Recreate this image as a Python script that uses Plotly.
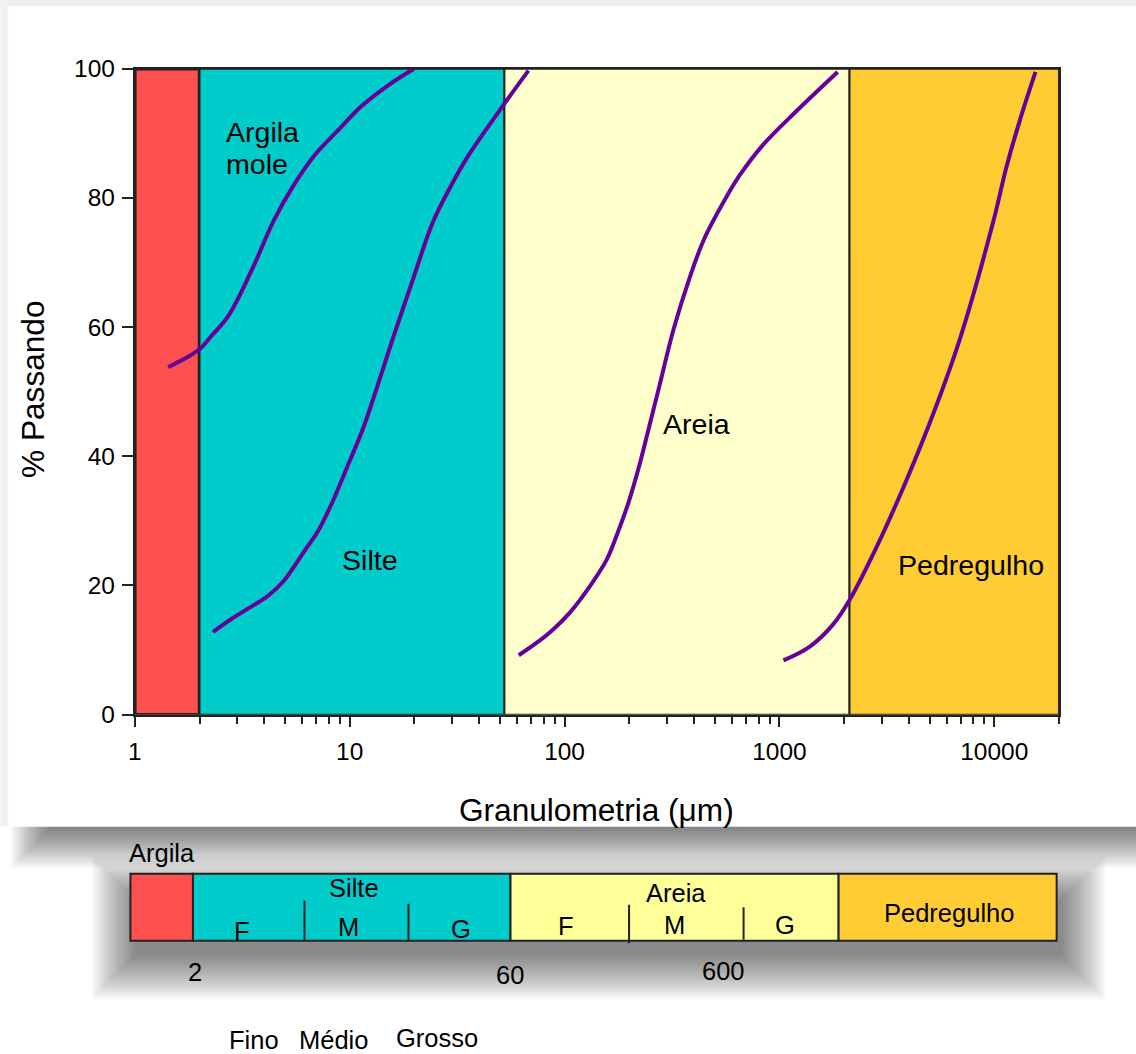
import numpy as np
import plotly.graph_objects as go

# ------------------------------------------------------------------
# DATA
# ------------------------------------------------------------------
faixa_nomes = ["Argila", "Silte", "Areia", "Pedregulho"]
faixa_limites_um = [1, 2, 52.5, 2120, 20000]          # class limits shown on the chart (µm)

curva_argila_mole_x = [1.43, 1.81, 2.05, 2.24, 2.72, 3.52, 4.42, 5.47, 6.94, 8.79, 11.26, 15.05, 19.9]
curva_argila_mole_y = [53.8, 55.6, 56.9, 58.4, 61.7, 69.0, 76.4, 81.9, 86.8, 90.4, 94.1, 97.4, 100.0]

curva_silte_x = [2.31, 2.78, 3.51, 4.13, 4.93, 6.23, 7.06, 8.15, 9.92, 11.66, 13.47, 15.83,
                 19.70, 24.43, 29.65, 35.6, 53.6, 67.9]
curva_silte_y = [12.8, 14.7, 16.8, 18.3, 20.7, 25.6, 28.2, 32.3, 39.0, 44.7, 50.9, 58.1,
                 67.4, 76.3, 81.9, 86.5, 95.0, 99.7]

curva_areia_x = [61.2, 74.0, 88.5, 105.9, 131.3, 157.1, 176.9, 199.1, 221.7, 246, 274, 322,
                 380, 446, 584, 650, 833, 1188, 1866]
curva_areia_y = [9.2, 11.1, 13.2, 15.8, 19.9, 24.0, 28.2, 33.0, 38.3, 44.2, 50.4, 59.7,
                 67.4, 73.6, 80.9, 83.4, 88.1, 93.3, 99.5]

curva_pedregulho_x = [1044, 1380, 1770, 2124, 2810, 3880, 5190, 6940, 9890, 11380, 13210, 15560]
curva_pedregulho_y = [8.4, 10.5, 13.9, 17.8, 25.7, 36.1, 46.5, 58.3, 76.3, 84.7, 92.2, 99.5]

x_tick_vals = [1, 10, 100, 1000, 10000]
x_tick_text = ["1", "10", "100", "1000", "10000"]
y_tick_vals = [0, 20, 40, 60, 80, 100]

# schematic scale bar (not to scale)
escala_classes = ["Argila", "Silte", "Areia", "Pedregulho"]
escala_comprimentos = [62.5, 317.5, 328.0, 218.0]     # schematic lengths of the segments
escala_limites_texto = ["2", "60", "600"]
escala_subdiv = ["F", "M", "G"]
escala_subdiv_nomes = ["Fino", "Médio", "Grosso"]

# ------------------------------------------------------------------
# STYLE / LAYOUT CONSTANTS
# ------------------------------------------------------------------
W, H = 1136, 1054
FONT = "Arial, Liberation Sans, Helvetica, sans-serif"
PURPLE = "#660099"
EDGE = "#222222"
cores_faixa = ["#FF5050", "#00CCCC", "#FFFFCC", "#FFCC33"]
cores_escala = ["#FF5050", "#00CCCC", "#FFFF99", "#FFCC33"]

# screen placement (target picture pixels -> figure pixels)
SX, OX = 0.9936, 6.6
SY, OY = 0.974, 13.6
FS = 1.02   # font compensation


def PX(d):
    return (d - OX) / SX


def PY(d):
    return (d - OY) / SY


def fx(d):          # target pixel -> paper fraction
    return PX(d) / W


def fy(d):
    return 1 - PY(d) / H


# main plot box (target pixels)
PX_L, PX_R, PX_T, PX_B = 134.4, 1058.3, 69.3, 715.0
XMAX_LOG = np.log10(20000)
DEC = (PX_R - PX_L) / XMAX_LOG
YPX = (PX_B - PX_T) / 100.0


def lx(p):       # target pixel -> log10 data coordinate
    return (p - PX_L) / DEC


def ly(p):
    return (PX_B - p) / YPX


fig = go.Figure()

# background class bands
for i, nome in enumerate(faixa_nomes):
    lo, hi = faixa_limites_um[i], faixa_limites_um[i + 1]
    fig.add_trace(go.Scatter(
        x=[lo, hi, hi, lo, lo], y=[0, 0, 100, 100, 0],
        mode="lines", fill="toself", fillcolor=cores_faixa[i],
        line=dict(color=EDGE, width=3.5 if i == 0 else 2),
        hoverinfo="skip", showlegend=False, name=nome))

# grading curves
for cx, cy in [(curva_argila_mole_x, curva_argila_mole_y),
               (curva_silte_x, curva_silte_y),
               (curva_areia_x, curva_areia_y),
               (curva_pedregulho_x, curva_pedregulho_y)]:
    fig.add_trace(go.Scatter(
        x=cx, y=cy, mode="lines",
        line=dict(color=PURPLE, width=4, shape="spline", smoothing=1.0),
        showlegend=False))

# ---------------- schematic scale bar (x2 / y2) ----------------
BAR_X0 = 130.0           # target pixel of schematic 0
X2_DOM = (120.0, 1066.0)
X2_RANGE = (X2_DOM[0] - BAR_X0, X2_DOM[1] - BAR_X0)
BAR_H = 67.0             # target px per y2 unit
BAR_CY = 907.5
Y2_DOM_PX = (864.0, 951.0)
Y2_RANGE = (-(Y2_DOM_PX[1] - BAR_CY) / BAR_H, (BAR_CY - Y2_DOM_PX[0]) / BAR_H)

starts = np.concatenate([[0.0], np.cumsum(escala_comprimentos)[:-1]])
for i, nome in enumerate(escala_classes):
    fig.add_trace(go.Bar(
        x=[escala_comprimentos[i]], base=[starts[i]], y=[0], orientation="h", width=1.0,
        marker=dict(color=cores_escala[i], line=dict(color=EDGE, width=2)),
        xaxis="x2", yaxis="y2", showlegend=False, hoverinfo="skip", name=nome))


def uy(p):
    return (BAR_CY - p) / BAR_H


def ux(p):
    return p - BAR_X0


# subdivision ticks inside Silte and Areia (schematic)
subdiv_px = [(304, 900.7, 940), (408, 904, 940), (628.5, 905, 943.5), (743, 907.5, 940)]
for xp, y0p, y1p in subdiv_px:
    fig.add_trace(go.Scatter(x=[ux(xp), ux(xp)], y=[uy(y0p), uy(y1p)], mode="lines",
                             line=dict(color=EDGE, width=2), xaxis="x2", yaxis="y2",
                             showlegend=False, hoverinfo="skip"))

annotations = []


def ann(text, x, y, size, xref, yref, **kw):
    d = dict(text=text, x=x, y=y, xref=xref, yref=yref, showarrow=False,
             font=dict(family=FONT, size=size * FS, color="black"),
             xanchor=kw.pop("xanchor", "center"), yanchor=kw.pop("yanchor", "middle"))
    d.update(kw)
    annotations.append(d)


def annd(text, dx, dy, size, **kw):      # data-space label from target pixels
    ann(text, lx(dx), ly(dy), size, "x", "y", **kw)


def annp(text, dx, dy, size, **kw):      # paper-space label from target pixels
    ann(text, fx(dx), fy(min(dy, 1040.0)), size, "paper", "paper", **kw)


# labels on main chart
annd("Argila", 224, 133, 28, xanchor="left")
annd("mole", 224, 165, 28, xanchor="left")
annd("Silte", 370, 560, 28)
annd("Areia", 696, 424, 28)
annd("Pedregulho", 970, 565, 28)

# axis titles
annp("% Passando", 32, 390, 31, textangle=-90)
annp("Granulometria (μm)", 596, 810, 31)

# scale-bar labels
annp(escala_classes[0], 162, 853, 25)
annp(escala_classes[1], 354, 888, 25)
annp(escala_classes[2], 675, 893, 25)
annp(escala_classes[3], 948.5, 913, 25)
for t, (xp, yp) in zip(escala_subdiv + escala_subdiv,
                       [(241.5, 931), (348, 927.5), (460, 929), (565, 926), (674, 925), (784, 925.5)]):
    annp(t, xp, yp, 25)
for t, (xp, yp) in zip(escala_limites_texto, [(195, 972), (509.5, 975), (722.5, 971)]):
    annp(t, xp, yp, 25)
for t, (xp, yp) in zip(escala_subdiv_nomes, [(253.5, 1040), (333.5, 1042), (436.5, 1038)]):
    annp(t, xp, yp, 25)

# ---------------- decorative shadows ----------------
shapes = []


def rect(x0, y0, x1, y1, color, layer="below"):
    shapes.append(dict(type="rect", xref="paper", yref="paper",
                       x0=fx(x0), x1=fx(x1), y0=fy(y1), y1=fy(y0),
                       fillcolor=color, line=dict(width=0), layer=layer))


# faint frame at top / left
rect(0, 0, W + 10, 7, "#efefef")
rect(0, 0, 8, 827, "#f1f1f1")
# card shadow (soft, mostly downward)
for i in range(20):
    e = 2.17 * i
    rect(52 - e, 805 - e, 1200 + e, 827 + e, "rgba(0,0,0,0.030)")
# white card
rect(8, 7, W + 10, 827, "white")
# scale-bar shadow
for i in range(20):
    e = 2.3 * i
    rect(135 - e, 900 - e, 1061 + e, 956 + e, "rgba(0,0,0,0.027)")

fig.update_layout(
    width=W, height=H, autosize=False,
    margin=dict(l=0, r=0, t=0, b=0),
    paper_bgcolor="white", plot_bgcolor="rgba(0,0,0,0)",
    barmode="overlay", showlegend=False,
    font=dict(family=FONT, color="black"),
    xaxis=dict(
        type="log", range=[0, XMAX_LOG],
        domain=[fx(PX_L), fx(PX_R)], anchor="y",
        tickmode="array", tickvals=x_tick_vals, ticktext=x_tick_text,
        ticks="outside", ticklen=10, tickwidth=1.5, tickcolor=EDGE,
        ticklabelstandoff=4,
        tickfont=dict(family=FONT, size=24 * FS, color="black"),
        minor=dict(tickmode="array",
                   tickvals=[m * 10 ** d for d in range(5) for m in range(2, 10) if m * 10 ** d <= 20000] + [20000],
                   ticks="outside", ticklen=7, tickwidth=1.5, tickcolor=EDGE),
        showline=True, linecolor=EDGE, linewidth=2, mirror=True,
        showgrid=False, zeroline=False),
    yaxis=dict(
        range=[0, 100], domain=[fy(PX_B), fy(PX_T)], anchor="x",
        tickmode="array", tickvals=y_tick_vals,
        ticks="outside", ticklen=11, tickwidth=1.5, tickcolor=EDGE,
        ticklabelstandoff=2,
        tickfont=dict(family=FONT, size=24 * FS, color="black"),
        showline=True, linecolor=EDGE, linewidth=2, mirror=True,
        showgrid=False, zeroline=False),
    xaxis2=dict(domain=[fx(X2_DOM[0]), fx(X2_DOM[1])], range=list(X2_RANGE),
                anchor="y2", visible=False, fixedrange=True),
    yaxis2=dict(domain=[fy(Y2_DOM_PX[1]), fy(Y2_DOM_PX[0])], range=list(Y2_RANGE),
                anchor="x2", visible=False, fixedrange=True),
    annotations=annotations,
    shapes=shapes,
)

fig.write_html(
    "out.html",
    config={"displayModeBar": False},
    post_script="document.body.style.margin='0';document.body.style.padding='0';"
                "document.documentElement.style.overflow='hidden';",
)
